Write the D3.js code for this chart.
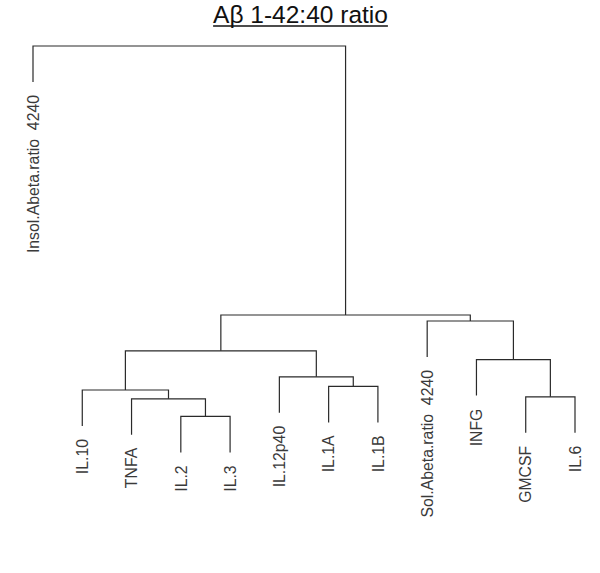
<!DOCTYPE html>
<html>
<head>
<meta charset="utf-8">
<script src="https://cdn.jsdelivr.net/npm/d3@7"></script>
<style>
  html, body { margin: 0; padding: 0; background: #fff; }
  svg { display: block; }
</style>
</head>
<body>
<script>
// ---- data (hclust-style) ----
const title = "A\u03B2 1-42:40 ratio";
const leafLabels = ["Insol.Abeta.ratio  4240", "IL.10", "TNFA", "IL.2", "IL.3", "IL.12p40",
                    "IL.1A", "IL.1B", "Sol.Abeta.ratio  4240", "INFG", "GMCSF", "IL.6"];
// negative = leaf (1-based index into leafLabels), positive = earlier merge row (1-based)
const mergeLeft   = [-4, -3, -11, -2, -7, -6, -10, 4, -9, 8, -1];
const mergeRight  = [-5,  1, -12,  2, -8,  5,   3, 6,  7, 9, 10];
const mergeHeight = [0.074, 0.118, 0.123, 0.140, 0.149, 0.173, 0.216, 0.238, 0.3125, 0.3275, 1.0];
const hang = 0.09;

// ---- build hierarchy ----
function node(ref) {
  if (ref < 0) return { name: leafLabels[-ref - 1] };
  const i = ref - 1;
  return { height: mergeHeight[i], children: [node(mergeLeft[i]), node(mergeRight[i])] };
}
const root = d3.hierarchy(node(mergeLeft.length));

const W = 600, H = 573;
const svg = d3.select("body").append("svg").attr("width", W).attr("height", H);

const leaves = root.leaves();
const x = d3.scalePoint().domain(leaves.map(d => d.data.name)).range([33, 575]);
const y = d3.scaleLinear().domain([0, 1]).range([446, 46]);

// positions
root.eachAfter(d => {
  if (!d.children) { d.px = x(d.data.name); }
  else { d.px = (d.children[0].px + d.children[1].px) / 2; d.py = y(d.data.height); }
});
root.each(d => { if (!d.children) d.py = y(d.parent.data.height - hang); });

// branches
const g = svg.append("g");
g.selectAll("path.branch")
  .data(root.descendants().filter(d => d.children))
  .join("path")
  .attr("class", "branch")
  .attr("fill", "none")
  .attr("stroke", "#2a2a2a")
  .attr("stroke-width", 1.2)
  .attr("d", d => {
    const [a, b] = d.children;
    return `M${a.px},${a.py}V${d.py}H${b.px}V${b.py}`;
  });

// leaf labels
g.selectAll("text.leaf")
  .data(leaves)
  .join("text")
  .attr("class", "leaf")
  .attr("transform", d => `translate(${d.px},${d.py + 13}) rotate(-90)`)
  .attr("dy", "0.36em")
  .attr("text-anchor", "end")
  .attr("font-family", "'Liberation Sans', Arial, sans-serif")
  .attr("font-size", 15.8)
  .attr("fill", "#3a3a3a")
  .style("white-space", "pre")
  .text(d => d.data.name);

// title with underline
const t = svg.append("text")
  .attr("x", 300.5).attr("y", 22.5)
  .attr("text-anchor", "middle")
  .attr("font-family", "'Liberation Sans', Arial, sans-serif")
  .attr("font-size", 24.5)
  .attr("fill", "#111")
  .text(title);
const bb = t.node().getBBox();
svg.append("line")
  .attr("x1", bb.x).attr("x2", bb.x + bb.width)
  .attr("y1", 26).attr("y2", 26)
  .attr("stroke", "#111").attr("stroke-width", 1.5);
</script>
</body>
</html>
